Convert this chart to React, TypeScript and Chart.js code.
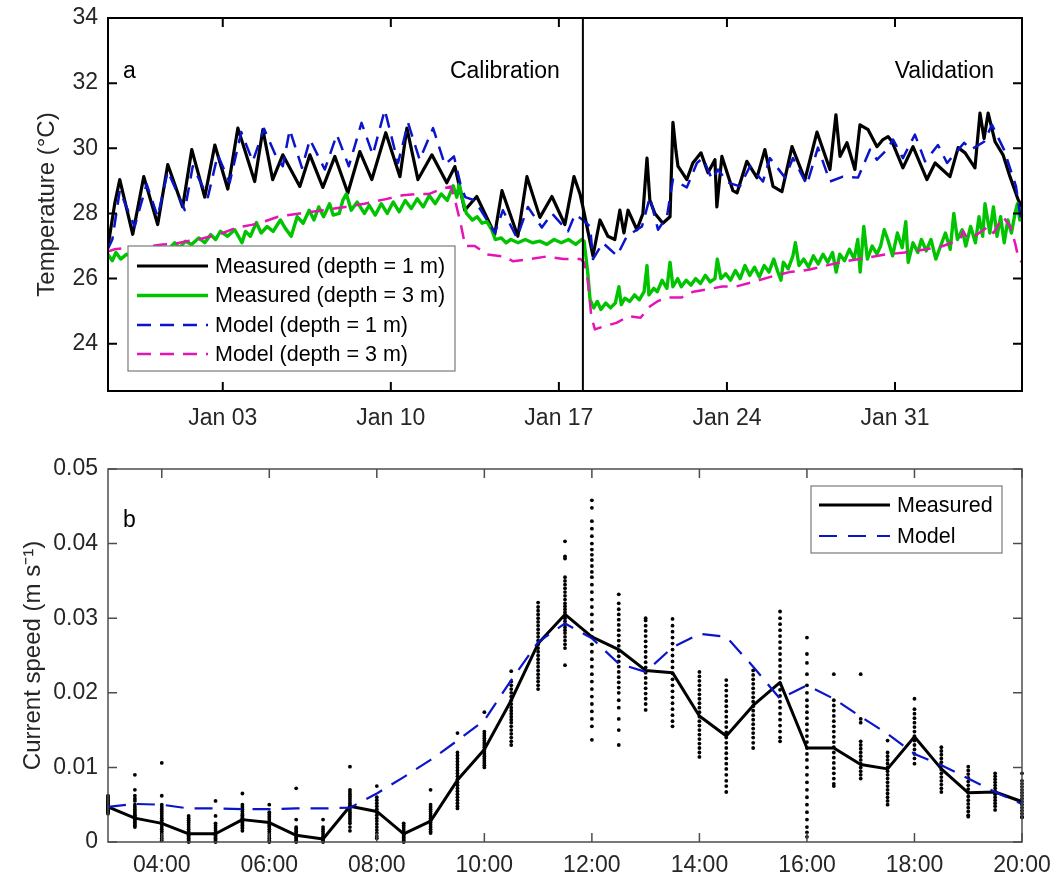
import React, { useEffect, useRef } from "react";
import { Chart, registerables } from "chart.js";

Chart.register(...registerables);

const FONT = "'Liberation Sans', Arial, Helvetica, sans-serif";

// ---------- Panel a : temperature ----------
const dayMin = -1.78;
const dayMax = 36.29;
const separatorDay = 18.0;
const dayTickValues = [3, 10, 17, 24, 31];
const dayTickLabels = ["Jan 03", "Jan 10", "Jan 17", "Jan 24", "Jan 31"];
const tempMin = 22.55;
const tempMax = 34;
const tempTickValues = [24, 26, 28, 30, 32, 34];
const tempTickLabels = ["24", "26", "28", "30", "32", "34"];

const measured1m: [number, number][] = [
  [-1.79, 26.95], [-1.5, 28.3], [-1.29, 29.04], [-0.75, 27.36], [-0.29, 29.13], [0.29, 27.66],
  [0.71, 29.5], [1.33, 28.2], [1.71, 29.96], [2.25, 28.5], [2.67, 30.1], [3.21, 28.75],
  [3.63, 30.62], [4.33, 28.98], [4.67, 30.57], [5.08, 29.04], [5.5, 29.8], [6.21, 28.83],
  [6.63, 29.8], [7.17, 28.8], [7.67, 29.75], [8.21, 28.63], [8.71, 29.9], [9.21, 29.04],
  [9.79, 30.48], [10.38, 29.13], [10.67, 30.62], [11.13, 29.04], [11.71, 29.8], [12.33, 28.94],
  [12.67, 29.44], [13.08, 28.1], [13.58, 28.52], [14.33, 27.36], [14.63, 28.7], [15.29, 27.3],
  [15.67, 29.13], [16.21, 27.88], [16.71, 28.52], [17.25, 27.66], [17.63, 29.13], [17.88, 28.6],
  [18.0, 28.2], [18.42, 26.7], [18.71, 27.8], [19.04, 27.3], [19.33, 27.2], [19.54, 28.1],
  [19.71, 27.4], [19.88, 28.1], [20.25, 27.5], [20.5, 28.0], [20.67, 29.7], [20.79, 28.4],
  [21.0, 28.0], [21.33, 27.7], [21.63, 27.9], [21.75, 30.8], [21.88, 29.9], [21.96, 29.45],
  [22.33, 29.04], [22.58, 29.55], [22.92, 29.86], [23.21, 29.25], [23.5, 29.65], [23.58, 28.2],
  [23.79, 29.75], [24.25, 28.7], [24.42, 28.63], [24.83, 29.6], [25.25, 29.1], [25.58, 29.96],
  [25.92, 28.83], [26.29, 28.67], [26.71, 30.05], [27.25, 29.04], [27.75, 30.5], [28.29, 29.35],
  [28.54, 31.03], [28.71, 29.75], [29.0, 30.17], [29.33, 29.35], [29.54, 30.72], [29.88, 30.57],
  [30.25, 30.05], [30.5, 30.27], [30.71, 30.36], [30.88, 30.2], [31.33, 29.4], [31.75, 30.05],
  [32.33, 29.04], [32.67, 29.55], [33.29, 29.13], [33.63, 30.02], [33.92, 29.86], [34.33, 29.4],
  [34.54, 31.08], [34.71, 30.3], [34.88, 31.08], [35.17, 30.2], [35.5, 29.8], [35.79, 29.13],
  [36.13, 28.42], [36.29, 28.2],
];

const measured3m: [number, number][] = [
  [-1.79, 26.75], [-1.6, 26.55], [-1.45, 26.8], [-1.25, 26.6], [-1.0, 26.75], [-0.7, 26.65],
  [-0.4, 26.8], [-0.1, 26.7], [0.2, 26.85], [0.5, 26.75], [0.8, 26.95], [1.0, 27.1],
  [1.2, 26.95], [1.45, 27.15], [1.7, 27.05], [2.0, 27.25], [2.25, 27.1], [2.5, 27.35],
  [2.7, 27.2], [2.9, 27.45], [3.2, 27.3], [3.5, 27.5], [3.8, 27.1], [3.95, 27.45],
  [4.15, 27.3], [4.4, 27.72], [4.6, 27.4], [4.85, 27.6], [5.1, 27.45], [5.4, 27.8],
  [5.6, 27.55], [5.85, 27.3], [6.1, 27.9], [6.35, 27.7], [6.6, 28.1], [6.8, 27.8],
  [7.0, 28.2], [7.2, 27.9], [7.45, 28.3], [7.6, 27.95], [7.85, 28.0], [8.0, 28.4],
  [8.15, 28.6], [8.35, 28.1], [8.6, 28.35], [8.9, 28.0], [9.1, 28.25], [9.35, 27.95],
  [9.6, 28.3], [9.85, 28.0], [10.1, 28.35], [10.35, 28.05], [10.6, 28.4], [10.85, 28.15],
  [11.1, 28.45], [11.35, 28.2], [11.6, 28.55], [11.85, 28.3], [12.1, 28.6], [12.35, 28.4],
  [12.6, 28.85], [12.75, 28.5], [12.85, 28.9], [13.0, 28.4], [13.15, 28.0], [13.4, 27.8],
  [13.6, 27.9], [13.8, 27.7], [14.0, 27.75], [14.2, 27.5], [14.35, 27.2], [14.6, 27.25],
  [14.8, 27.1], [15.0, 27.2], [15.3, 27.1], [15.6, 27.2], [15.9, 27.1], [16.2, 27.15],
  [16.5, 27.05], [16.8, 27.2], [17.1, 27.1], [17.4, 27.2], [17.7, 27.05], [17.95, 27.2],
  [18.05, 27.15], [18.2, 26.2], [18.3, 25.35], [18.45, 25.1], [18.6, 25.3], [18.75, 25.05],
  [18.95, 25.25], [19.15, 25.1], [19.35, 25.25], [19.5, 25.75], [19.6, 25.2], [19.75, 25.4],
  [19.95, 25.3], [20.15, 25.5], [20.35, 25.35], [20.55, 25.6], [20.67, 26.4], [20.75, 25.5],
  [20.95, 25.7], [21.1, 25.6], [21.3, 25.95], [21.5, 25.7], [21.63, 26.5], [21.75, 25.75],
  [21.95, 26.0], [22.1, 25.75], [22.3, 25.95], [22.5, 25.8], [22.7, 26.0], [22.9, 25.85],
  [23.1, 26.1], [23.3, 25.9], [23.5, 26.0], [23.6, 26.6], [23.75, 26.0], [23.95, 26.15],
  [24.15, 25.95], [24.35, 26.25], [24.55, 26.0], [24.75, 26.4], [24.95, 26.1], [25.15, 26.35],
  [25.35, 26.05], [25.55, 26.4], [25.75, 26.2], [25.95, 26.6], [26.1, 26.25], [26.25, 25.95],
  [26.35, 26.5], [26.55, 26.3], [26.75, 26.7], [26.85, 27.1], [27.0, 26.4], [27.2, 26.6],
  [27.4, 26.35], [27.6, 26.7], [27.8, 26.45], [28.0, 26.75], [28.2, 26.5], [28.4, 26.8],
  [28.55, 26.2], [28.7, 26.75], [28.9, 26.55], [29.1, 26.9], [29.3, 26.6], [29.45, 27.2],
  [29.55, 26.2], [29.7, 27.6], [29.85, 26.6], [30.05, 27.0], [30.25, 26.75], [30.4, 27.0],
  [30.55, 27.5], [30.7, 27.2], [30.9, 26.7], [31.1, 27.4], [31.3, 26.95], [31.45, 27.75],
  [31.55, 26.5], [31.75, 27.1], [31.95, 26.8], [32.1, 27.2], [32.3, 26.85], [32.5, 27.2],
  [32.7, 26.6], [32.9, 27.0], [33.1, 27.4], [33.3, 26.9], [33.45, 28.0], [33.6, 27.2],
  [33.8, 27.5], [33.95, 27.0], [34.15, 27.6], [34.35, 27.1], [34.5, 27.9], [34.65, 27.3],
  [34.75, 28.3], [34.95, 27.4], [35.1, 28.2], [35.25, 27.3], [35.4, 27.9], [35.55, 27.1],
  [35.7, 27.8], [35.85, 27.4], [36.0, 28.0], [36.1, 28.3], [36.2, 27.8], [36.29, 28.2],
];

const model1m: [number, number][] = [
  [-1.79, 26.9], [-1.6, 27.2], [-1.29, 28.7], [-0.67, 27.6], [-0.17, 28.9], [0.29, 27.9],
  [0.71, 29.3], [1.42, 28.1], [1.75, 29.45], [2.38, 28.5], [2.79, 29.8], [3.29, 28.95],
  [3.77, 30.5], [4.25, 29.6], [4.72, 30.6], [5.25, 29.7], [5.5, 29.45], [5.79, 30.57],
  [6.3, 29.4], [6.63, 30.27], [7.25, 29.35], [7.75, 30.42], [8.25, 29.45], [8.78, 30.78],
  [9.25, 29.8], [9.75, 31.18], [10.3, 29.55], [10.72, 30.78], [11.2, 29.65], [11.76, 30.62],
  [12.25, 29.5], [12.63, 29.75], [12.9, 28.9], [13.1, 28.5], [13.5, 28.4], [14.33, 27.4],
  [14.67, 28.1], [15.25, 27.25], [15.71, 28.2], [16.29, 27.57], [16.71, 28.0], [17.38, 27.45],
  [17.67, 27.97], [18.0, 27.8], [18.3, 27.6], [18.42, 26.6], [18.83, 27.1], [19.42, 26.7],
  [19.83, 27.3], [20.46, 27.6], [20.79, 28.5], [21.13, 27.5], [21.5, 27.9], [21.75, 29.04],
  [22.33, 28.8], [22.75, 29.55], [23.0, 29.7], [23.38, 29.04], [23.63, 29.35], [24.04, 28.95],
  [24.54, 28.83], [24.96, 29.45], [25.5, 28.98], [25.79, 29.7], [26.42, 29.1], [26.75, 29.7],
  [27.33, 28.88], [27.79, 30.02], [28.29, 28.98], [28.83, 29.13], [29.46, 29.1], [29.96, 29.96],
  [30.25, 29.65], [30.67, 29.96], [30.92, 30.27], [31.33, 29.7], [31.83, 30.42], [32.25, 29.6],
  [32.79, 30.1], [33.17, 29.55], [33.88, 30.17], [34.17, 29.96], [34.71, 30.2], [35.04, 30.72],
  [35.54, 29.96], [36.04, 28.83], [36.29, 27.6],
];

const model3m: [number, number][] = [
  [-1.79, 26.83], [-1.5, 26.9], [-1.0, 26.95], [-0.5, 26.95], [0.0, 27.0], [0.5, 27.05],
  [1.0, 27.07], [1.5, 27.15], [2.0, 27.2], [2.5, 27.3], [3.0, 27.4], [3.6, 27.57],
  [4.2, 27.65], [4.6, 27.72], [5.3, 27.9], [6.2, 28.0], [7.2, 28.1], [8.1, 28.2],
  [8.9, 28.3], [9.8, 28.44], [10.5, 28.56], [11.1, 28.6], [11.6, 28.6], [12.1, 28.75],
  [12.5, 28.83], [12.7, 28.33], [12.9, 27.72], [13.1, 27.0], [13.5, 27.0], [14.0, 26.74],
  [14.7, 26.68], [15.1, 26.53], [15.8, 26.6], [16.5, 26.68], [17.2, 26.6], [17.9, 26.6],
  [18.05, 26.5], [18.2, 25.97], [18.35, 24.85], [18.5, 24.44], [18.9, 24.54], [19.4, 24.64],
  [19.9, 24.85], [20.4, 24.8], [20.8, 25.15], [21.1, 25.3], [21.5, 25.42], [22.1, 25.42],
  [22.6, 25.6], [23.2, 25.67], [23.8, 25.76], [24.4, 25.76], [25.1, 25.9], [25.9, 26.07],
  [26.6, 26.2], [27.4, 26.27], [28.3, 26.43], [28.9, 26.53], [29.8, 26.64], [30.6, 26.74],
  [31.4, 26.8], [32.3, 26.9], [33.0, 27.0], [33.7, 27.2], [33.85, 27.45], [34.0, 27.25],
  [34.3, 27.3], [34.9, 27.6], [35.1, 27.4], [35.5, 27.9], [35.8, 27.6], [36.0, 27.1],
  [36.15, 26.6], [36.29, 26.5],
];

// ---------- Panel b : current speed ----------
const hourMin = 3;
const hourMax = 20;
const hourTickValues = [4, 6, 8, 10, 12, 14, 16, 18, 20];
const hourTickLabels = ["04:00", "06:00", "08:00", "10:00", "12:00", "14:00", "16:00", "18:00", "20:00"];
const speedMin = 0;
const speedMax = 0.05;
const speedTickValues = [0, 0.01, 0.02, 0.03, 0.04, 0.05];
const speedTickLabels = ["0", "0.01", "0.02", "0.03", "0.04", "0.05"];

const sampleHours = [
  3, 3.5, 4, 4.5, 5, 5.5, 6, 6.5, 7, 7.5, 8, 8.5, 9, 9.5, 10, 10.5, 11, 11.5,
  12, 12.5, 13, 13.5, 14, 14.5, 15, 15.5, 16, 16.5, 17, 17.5, 18, 18.5, 19, 19.5, 20,
];
const measuredSpeed = [
  0.0047, 0.0032, 0.0025, 0.0011, 0.0011, 0.0030, 0.0026, 0.0009, 0.0004, 0.0048, 0.0041, 0.0011,
  0.0028, 0.0083, 0.0124, 0.0190, 0.0266, 0.0305, 0.0275, 0.0258, 0.0230, 0.0227, 0.0169, 0.0142,
  0.0183, 0.0214, 0.0126, 0.0126, 0.0104, 0.0098, 0.0141, 0.0098, 0.0066, 0.0067, 0.0054,
];
const modelSpeed = [
  0.0047, 0.0051, 0.0050, 0.0045, 0.0045, 0.0044, 0.0044, 0.0045, 0.0045, 0.0046, 0.0065, 0.0087,
  0.0110, 0.0136, 0.0163, 0.0217, 0.0268, 0.0293, 0.0273, 0.0239, 0.0228, 0.0261, 0.0279, 0.0275,
  0.0235, 0.0192, 0.0210, 0.0192, 0.0168, 0.0145, 0.0118, 0.0103, 0.0085, 0.0067, 0.0051,
];
const speedSamples: number[][] = [
  [0.0062, 0.006, 0.0058, 0.0056, 0.0055, 0.0053, 0.0052, 0.005, 0.0049, 0.0048, 0.0047, 0.0046, 0.0045, 0.0044, 0.0043, 0.0042, 0.0041, 0.004, 0.0038],
  [0.009, 0.007, 0.0062, 0.0058, 0.0055, 0.005, 0.0047, 0.0044, 0.0041, 0.0038, 0.0036, 0.0034, 0.0032, 0.003, 0.0028, 0.0026, 0.0024, 0.0022, 0.002],
  [0.0106, 0.0062, 0.005, 0.0047, 0.0044, 0.0041, 0.0038, 0.0035, 0.0032, 0.0029, 0.0026, 0.0023, 0.002, 0.0017, 0.0014, 0.0011, 0.0008, 0.0005, 0.0002],
  [0.0035, 0.0032, 0.0029, 0.0026, 0.0023, 0.002, 0.0017, 0.0014, 0.0011, 0.0009, 0.0007, 0.0005, 0.0003, 0.0001, 0.0],
  [0.0055, 0.0035, 0.0025, 0.0022, 0.0019, 0.0016, 0.0013, 0.0011, 0.0009, 0.0007, 0.0005, 0.0003, 0.0001, 0.0],
  [0.0065, 0.005, 0.0047, 0.0044, 0.0041, 0.0038, 0.0036, 0.0034, 0.0032, 0.003, 0.0028, 0.0026, 0.0024, 0.0022, 0.002, 0.0018, 0.0015],
  [0.005, 0.004, 0.0037, 0.0034, 0.0031, 0.0028, 0.0026, 0.0024, 0.0022, 0.002, 0.0017, 0.0014, 0.0011, 0.0008, 0.0005, 0.0002, 0.0],
  [0.0072, 0.003, 0.002, 0.0018, 0.0016, 0.0014, 0.0012, 0.001, 0.0008, 0.0006, 0.0004, 0.0002, 0.0],
  [0.003, 0.002, 0.0017, 0.0014, 0.0011, 0.0008, 0.0006, 0.0004, 0.0002, 0.0],
  [0.0101, 0.007, 0.0067, 0.0064, 0.0061, 0.0058, 0.0055, 0.0052, 0.0049, 0.0046, 0.0043, 0.004, 0.0037, 0.0034, 0.0031, 0.0028, 0.0025, 0.002, 0.0015],
  [0.0075, 0.006, 0.0056, 0.0052, 0.0048, 0.0044, 0.004, 0.0036, 0.0032, 0.0028, 0.0024, 0.002, 0.0016, 0.0012, 0.0008, 0.0005],
  [0.0025, 0.0022, 0.0019, 0.0016, 0.0013, 0.001, 0.0008, 0.0006, 0.0004, 0.0002, 0.0],
  [0.007, 0.005, 0.0047, 0.0044, 0.0041, 0.0038, 0.0035, 0.0032, 0.0029, 0.0026, 0.0023, 0.002, 0.0017, 0.0014, 0.0012],
  [0.0146, 0.012, 0.0116, 0.0112, 0.0108, 0.0104, 0.01, 0.0096, 0.0092, 0.0088, 0.0084, 0.008, 0.0076, 0.0072, 0.0068, 0.0064, 0.006, 0.0056, 0.0052, 0.0048, 0.0045],
  [0.0174, 0.0148, 0.0145, 0.0142, 0.0139, 0.0136, 0.0133, 0.013, 0.0127, 0.0124, 0.0121, 0.0118, 0.0115, 0.0112, 0.0109, 0.0106, 0.0103, 0.01],
  [0.0229, 0.0215, 0.021, 0.0205, 0.02, 0.0195, 0.019, 0.0185, 0.018, 0.0176, 0.0172, 0.0168, 0.0164, 0.016, 0.0155, 0.015, 0.0145, 0.014, 0.0135, 0.013],
  [0.0321, 0.0315, 0.031, 0.0305, 0.03, 0.0295, 0.029, 0.0285, 0.028, 0.0275, 0.027, 0.0265, 0.026, 0.0255, 0.025, 0.0245, 0.024, 0.0235, 0.023, 0.0225, 0.022, 0.0215, 0.021, 0.0205],
  [0.0403, 0.0383, 0.038, 0.0355, 0.035, 0.0345, 0.034, 0.0335, 0.033, 0.0325, 0.032, 0.0316, 0.0312, 0.0308, 0.0304, 0.03, 0.0296, 0.0292, 0.0288, 0.0284, 0.028, 0.0275, 0.027, 0.0265, 0.026, 0.0237],
  [0.0458, 0.0448, 0.043, 0.042, 0.041, 0.04, 0.0392, 0.0385, 0.0378, 0.037, 0.0362, 0.0355, 0.0345, 0.0335, 0.0325, 0.0315, 0.0305, 0.0295, 0.0285, 0.0275, 0.0265, 0.0255, 0.0245, 0.0235, 0.0225, 0.0215, 0.0205, 0.0195, 0.0185, 0.0175, 0.0165, 0.0155, 0.0137],
  [0.0332, 0.032, 0.0312, 0.0305, 0.0298, 0.0291, 0.0284, 0.0277, 0.027, 0.0263, 0.0256, 0.0249, 0.0242, 0.0235, 0.0228, 0.0221, 0.0214, 0.0207, 0.02, 0.019, 0.018, 0.0165, 0.015, 0.013],
  [0.03, 0.0297, 0.029, 0.0283, 0.0276, 0.0269, 0.0262, 0.0255, 0.0248, 0.0241, 0.0234, 0.0227, 0.022, 0.0213, 0.0206, 0.0199, 0.0192, 0.0185, 0.0177],
  [0.0299, 0.029, 0.0282, 0.0274, 0.0266, 0.0258, 0.025, 0.0242, 0.0234, 0.0226, 0.0218, 0.021, 0.0202, 0.0194, 0.0186, 0.0178, 0.017, 0.0162, 0.0155],
  [0.0228, 0.0222, 0.0216, 0.021, 0.0204, 0.0198, 0.0192, 0.0186, 0.018, 0.0174, 0.0168, 0.0162, 0.0156, 0.015, 0.0144, 0.0138, 0.0132, 0.0126, 0.012, 0.0114],
  [0.0217, 0.021, 0.0203, 0.0196, 0.0189, 0.0182, 0.0175, 0.0168, 0.0161, 0.0154, 0.0147, 0.014, 0.0133, 0.0126, 0.0119, 0.0112, 0.0105, 0.0098, 0.009, 0.0082, 0.0075, 0.0067],
  [0.023, 0.0224, 0.0218, 0.0212, 0.0206, 0.02, 0.0194, 0.0188, 0.0182, 0.0176, 0.017, 0.0164, 0.0158, 0.0152, 0.0146, 0.014, 0.0133, 0.0126],
  [0.0309, 0.03, 0.0292, 0.0284, 0.0276, 0.0268, 0.026, 0.0252, 0.0244, 0.0236, 0.0228, 0.022, 0.0212, 0.0204, 0.0196, 0.0188, 0.018, 0.0172, 0.0164, 0.0156, 0.0148, 0.014, 0.0135],
  [0.0274, 0.0252, 0.024, 0.0225, 0.021, 0.02, 0.019, 0.0182, 0.0174, 0.0166, 0.0158, 0.015, 0.0142, 0.0134, 0.0126, 0.0118, 0.011, 0.01, 0.009, 0.008, 0.007, 0.006, 0.005, 0.004, 0.003, 0.002, 0.0013, 0.0007],
  [0.0225, 0.019, 0.0183, 0.0176, 0.0169, 0.0162, 0.0155, 0.0148, 0.0141, 0.0134, 0.0127, 0.012, 0.0113, 0.0106, 0.0099, 0.0092, 0.0085, 0.0078, 0.0075],
  [0.0225, 0.0165, 0.016, 0.0135, 0.013, 0.0125, 0.012, 0.0115, 0.011, 0.0105, 0.01, 0.0095, 0.009, 0.0085],
  [0.0136, 0.012, 0.0115, 0.011, 0.0105, 0.01, 0.0095, 0.009, 0.0085, 0.008, 0.0075, 0.007, 0.0065, 0.006, 0.0055, 0.005],
  [0.0192, 0.0178, 0.0172, 0.0166, 0.016, 0.0154, 0.0148, 0.0142, 0.0136, 0.013, 0.0124, 0.0118, 0.0112, 0.0105],
  [0.0127, 0.0122, 0.0117, 0.0112, 0.0107, 0.0102, 0.0097, 0.0092, 0.0087, 0.0082, 0.0077, 0.0072, 0.0067],
  [0.0101, 0.0096, 0.0091, 0.0086, 0.0081, 0.0076, 0.0071, 0.0066, 0.0061, 0.0056, 0.0051, 0.0046, 0.0041, 0.0036, 0.0034],
  [0.0092, 0.0088, 0.0084, 0.008, 0.0076, 0.0072, 0.0068, 0.0064, 0.006, 0.0056, 0.0052, 0.0048, 0.0043],
  [0.0092, 0.0082, 0.0078, 0.0074, 0.007, 0.0066, 0.0062, 0.0058, 0.0054, 0.005, 0.0046, 0.0042, 0.0038, 0.0034, 0.0033],
];

// ---------- styling ----------
const TICK_FONT = 23;
const LEGEND_FONT = 21.5;
const TICK_COLOR = "#262626";
const GREEN = "#00c400";
const BLUE = "#0a14c8";
const MAGENTA = "#e614b4";

const W = 1053;
const TOP_H = 440;
const BOT_H = 441;

type PanelCfg = {
  id: string;
  axisColor: string;
  axisWidth: number;
  xTicks: number[];
  yTicks: number[];
  separator?: number;
  texts: { text: string; from: "left" | "right" | "sep"; dx: number; dy: number; align: CanvasTextAlign }[];
  legend: { left?: number; right?: number; top: number; width: number; height: number; rowY: number[]; indices: number[]; lineX0: number; lineX1: number; textX: number };
};

function panelPlugin(cfg: PanelCfg) {
  return {
    id: cfg.id,
    afterDatasetsDraw(chart: any) {
      const { ctx, chartArea: a, scales } = chart;
      const xs = scales.x;
      const ys = scales.y;
      ctx.save();
      if (cfg.separator !== undefined) {
        const px = xs.getPixelForValue(cfg.separator);
        ctx.strokeStyle = "#000";
        ctx.lineWidth = 2;
        ctx.setLineDash([]);
        ctx.beginPath();
        ctx.moveTo(px, a.top);
        ctx.lineTo(px, a.bottom);
        ctx.stroke();
      }
      ctx.strokeStyle = cfg.axisColor;
      ctx.lineWidth = cfg.axisWidth;
      ctx.setLineDash([]);
      ctx.strokeRect(a.left, a.top, a.right - a.left, a.bottom - a.top);
      const L = 9;
      ctx.beginPath();
      cfg.xTicks.forEach((v) => {
        const px = xs.getPixelForValue(v);
        ctx.moveTo(px, a.bottom);
        ctx.lineTo(px, a.bottom - L);
        ctx.moveTo(px, a.top);
        ctx.lineTo(px, a.top + L);
      });
      cfg.yTicks.forEach((v) => {
        const py = ys.getPixelForValue(v);
        ctx.moveTo(a.left, py);
        ctx.lineTo(a.left + L, py);
        ctx.moveTo(a.right, py);
        ctx.lineTo(a.right - L, py);
      });
      ctx.stroke();
      ctx.fillStyle = "#000";
      ctx.font = `${TICK_FONT}px ${FONT}`;
      ctx.textBaseline = "alphabetic";
      const sepPx = cfg.separator !== undefined ? xs.getPixelForValue(cfg.separator) : 0;
      cfg.texts.forEach((t) => {
        ctx.textAlign = t.align;
        const base = t.from === "left" ? a.left : t.from === "right" ? a.right : sepPx;
        ctx.fillText(t.text, base + t.dx, a.top + t.dy);
      });
      const lg = cfg.legend;
      const bx = lg.left !== undefined ? a.left + lg.left : a.right - (lg.right as number) - lg.width;
      const by = a.top + lg.top;
      ctx.fillStyle = "#fff";
      ctx.fillRect(bx, by, lg.width, lg.height);
      ctx.strokeStyle = "#7a7a7a";
      ctx.lineWidth = 1.2;
      ctx.strokeRect(bx, by, lg.width, lg.height);
      ctx.font = `${LEGEND_FONT}px ${FONT}`;
      ctx.textAlign = "left";
      ctx.textBaseline = "middle";
      lg.indices.forEach((di, i) => {
        const ds = chart.data.datasets[di];
        const y = by + lg.rowY[i];
        ctx.strokeStyle = ds.borderColor;
        ctx.lineWidth = ds.borderWidth;
        ctx.setLineDash(ds.borderDash || []);
        ctx.beginPath();
        ctx.moveTo(bx + lg.lineX0, y);
        ctx.lineTo(bx + lg.lineX1, y);
        ctx.stroke();
        ctx.setLineDash([]);
        ctx.fillStyle = "#000";
        ctx.fillText(ds.label, bx + lg.textX, y + 1);
      });
      ctx.restore();
    },
  };
}

function axisScales(opts: {
  xMin: number; xMax: number; xTicks: number[]; xLabels: string[]; xHeight: number; xPad: number;
  yMin: number; yMax: number; yTicks: number[]; yLabels: string[]; yTitle: string; titlePad: number;
}) {
  const tickFont = { family: FONT, size: TICK_FONT };
  return {
    x: {
      type: "linear",
      position: "bottom",
      min: opts.xMin,
      max: opts.xMax,
      grid: { display: false, drawTicks: false },
      border: { display: false },
      ticks: {
        font: tickFont,
        color: TICK_COLOR,
        padding: opts.xPad,
        maxRotation: 0,
        autoSkip: false,
        callback: (v: number) => {
          const i = opts.xTicks.findIndex((t) => Math.abs(t - v) < 1e-9);
          return i >= 0 ? opts.xLabels[i] : "";
        },
      },
      afterBuildTicks: (s: any) => {
        s.ticks = opts.xTicks.map((v) => ({ value: v }));
      },
      afterFit: (s: any) => {
        s.height = opts.xHeight;
        s.paddingLeft = 0;
        s.paddingRight = 0;
      },
    },
    y: {
      type: "linear",
      position: "left",
      min: opts.yMin,
      max: opts.yMax,
      grid: { display: false, drawTicks: false },
      border: { display: false },
      title: {
        display: true,
        text: opts.yTitle,
        color: TICK_COLOR,
        font: { family: FONT, size: 24 },
        padding: { top: opts.titlePad, bottom: 0 },
      },
      ticks: {
        font: tickFont,
        color: TICK_COLOR,
        padding: 10,
        autoSkip: false,
        callback: (v: number) => {
          const i = opts.yTicks.findIndex((t) => Math.abs(t - v) < 1e-9);
          return i >= 0 ? opts.yLabels[i] : "";
        },
      },
      afterBuildTicks: (s: any) => {
        s.ticks = opts.yTicks.map((v) => ({ value: v }));
      },
      afterFit: (s: any) => {
        s.width = 108;
        s.paddingTop = 0;
        s.paddingBottom = 0;
      },
    },
  };
}

const toXY = (arr: [number, number][]) => arr.map(([x, y]) => ({ x, y }));

export default function App() {
  const topRef = useRef<HTMLCanvasElement>(null);
  const botRef = useRef<HTMLCanvasElement>(null);

  useEffect(() => {
    const lineBase = { pointRadius: 0, tension: 0, fill: false, borderCapStyle: "butt", borderJoinStyle: "round" };

    const top = new Chart(topRef.current as HTMLCanvasElement, {
      type: "line",
      data: {
        datasets: [
          { ...lineBase, label: "Measured (depth = 1 m)", data: toXY(measured1m), borderColor: "#000000", borderWidth: 3.2, order: 4 },
          { ...lineBase, label: "Measured (depth = 3 m)", data: toXY(measured3m), borderColor: GREEN, borderWidth: 3.4, order: 3 },
          { ...lineBase, label: "Model (depth = 1 m)", data: toXY(model1m), borderColor: BLUE, borderWidth: 2.5, borderDash: [14, 9], order: 2 },
          { ...lineBase, label: "Model (depth = 3 m)", data: toXY(model3m), borderColor: MAGENTA, borderWidth: 2.5, borderDash: [14, 9], order: 1 },
        ],
      } as any,
      options: {
        responsive: false,
        animation: false,
        devicePixelRatio: 1,
        layout: { padding: { left: 0, right: 31, top: 18, bottom: 0 } },
        plugins: { legend: { display: false }, tooltip: { enabled: false } },
        scales: axisScales({
          xMin: dayMin, xMax: dayMax, xTicks: dayTickValues, xLabels: dayTickLabels, xHeight: TOP_H - 391, xPad: 14,
          yMin: tempMin, yMax: tempMax, yTicks: tempTickValues, yLabels: tempTickLabels, yTitle: "Temperature (°C)", titlePad: 33,
        }) as any,
      },
      plugins: [
        panelPlugin({
          id: "panelA",
          axisColor: "#000",
          axisWidth: 2,
          xTicks: dayTickValues,
          yTicks: tempTickValues,
          separator: separatorDay,
          texts: [
            { text: "a", from: "left", dx: 15, dy: 60, align: "left" },
            { text: "Calibration", from: "sep", dx: -23, dy: 60, align: "right" },
            { text: "Validation", from: "right", dx: -28, dy: 60, align: "right" },
          ],
          legend: { left: 20, top: 228, width: 327, height: 125, rowY: [20, 49.5, 79, 108], indices: [0, 1, 2, 3], lineX0: 9, lineX1: 80, textX: 87 },
        }),
      ],
    } as any);

    const dots: { x: number; y: number }[] = [];
    sampleHours.forEach((h, i) => speedSamples[i].forEach((v) => dots.push({ x: h, y: v })));

    const bot = new Chart(botRef.current as HTMLCanvasElement, {
      type: "line",
      data: {
        datasets: [
          { label: "samples", data: dots, showLine: false, pointRadius: 1.9, pointBorderWidth: 0, pointBackgroundColor: "#000", borderColor: "#000", order: 3, clip: 6 },
          { ...lineBase, label: "Measured", data: sampleHours.map((h, i) => ({ x: h, y: measuredSpeed[i] })), borderColor: "#000000", borderWidth: 3, order: 2 },
          { ...lineBase, label: "Model", data: sampleHours.map((h, i) => ({ x: h, y: modelSpeed[i] })), borderColor: BLUE, borderWidth: 2.2, borderDash: [18, 11], order: 1 },
        ],
      } as any,
      options: {
        responsive: false,
        animation: false,
        devicePixelRatio: 1,
        layout: { padding: { left: 0, right: 31, top: 29, bottom: 0 } },
        plugins: { legend: { display: false }, tooltip: { enabled: false } },
        scales: axisScales({
          xMin: hourMin, xMax: hourMax, xTicks: hourTickValues, xLabels: hourTickLabels, xHeight: BOT_H - 402, xPad: 10,
          yMin: speedMin, yMax: speedMax, yTicks: speedTickValues, yLabels: speedTickLabels, yTitle: "Current speed (m s\u207B\u00B9)", titlePad: 19,
        }) as any,
      },
      plugins: [
        panelPlugin({
          id: "panelB",
          axisColor: "#4d4d4d",
          axisWidth: 1.5,
          xTicks: hourTickValues,
          yTicks: speedTickValues,
          texts: [{ text: "b", from: "left", dx: 15, dy: 58, align: "left" }],
          legend: { right: 20, top: 17, width: 191, height: 67, rowY: [19, 50], indices: [1, 2], lineX0: 8, lineX1: 79, textX: 86 },
        }),
      ],
    } as any);

    return () => {
      top.destroy();
      bot.destroy();
    };
  }, []);

  return (
    <div style={{ position: "absolute", left: 0, top: 0, width: W, height: TOP_H + BOT_H, background: "#fff" }}>
      <canvas ref={topRef} width={W} height={TOP_H} style={{ position: "absolute", left: 0, top: 0, width: W, height: TOP_H }} />
      <canvas ref={botRef} width={W} height={BOT_H} style={{ position: "absolute", left: 0, top: TOP_H, width: W, height: BOT_H }} />
    </div>
  );
}
